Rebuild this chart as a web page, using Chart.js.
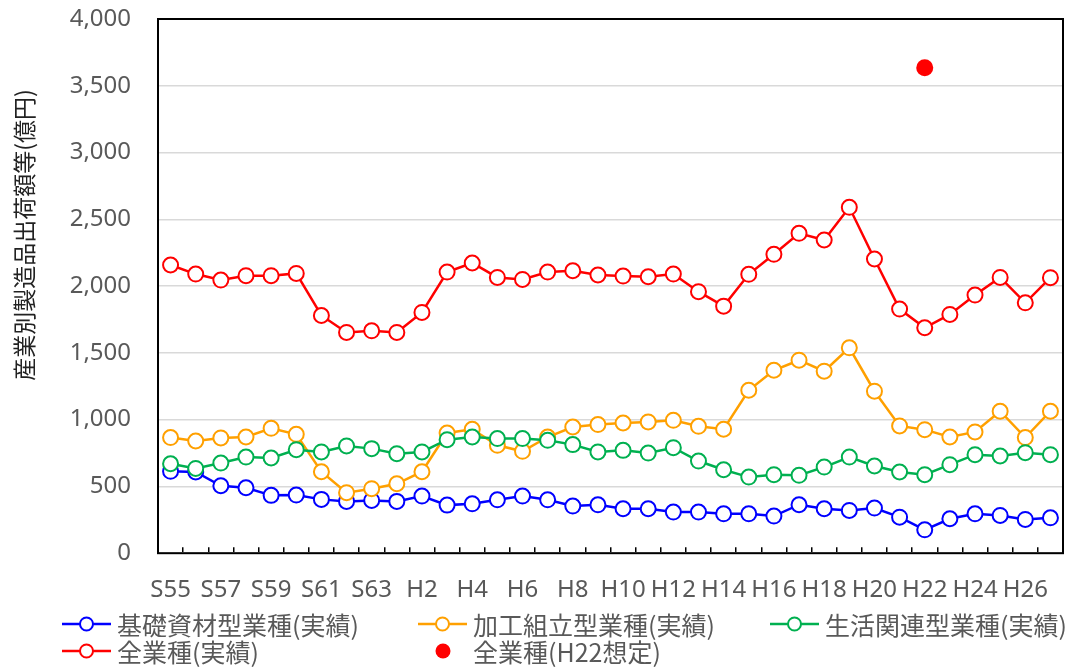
<!DOCTYPE html>
<html lang="ja">
<head>
<meta charset="utf-8">
<script src="https://cdn.jsdelivr.net/npm/chart.js@4.4.1/dist/chart.umd.min.js"></script>
<style>
  html, body { margin: 0; padding: 0; background: #fff; }
  #wrap { position: relative; width: 1075px; height: 667px; }
  #legend { position: absolute; left: 0; top: 0; width: 1075px; height: 667px; pointer-events: none;
            font: 25px "Noto Sans CJK JP", "Noto Sans"; color: #595959; }
  .item { position: absolute; display: flex; align-items: center; white-space: nowrap; height: 28px; line-height: 28px; }
  .item svg { margin-right: 6px; flex: none; }
</style>
</head>
<body>
<div id="wrap">
  <canvas id="chart" width="1075" height="667"></canvas>
  <div id="legend"></div>
</div>
<script>
'use strict';

// 年次 (S55〜S63, H1〜H27)
const years = ['S55', 'S56', 'S57', 'S58', 'S59', 'S60', 'S61', 'S62', 'S63',
  'H1', 'H2', 'H3', 'H4', 'H5', 'H6', 'H7', 'H8', 'H9', 'H10',
  'H11', 'H12', 'H13', 'H14', 'H15', 'H16', 'H17', 'H18', 'H19', 'H20',
  'H21', 'H22', 'H23', 'H24', 'H25', 'H26', 'H27'];

// 製造品出荷額等 (億円)
const basicMaterials = [613, 608, 505, 490, 433, 435, 403, 388, 395, 388, 428, 360,
  370, 400, 428, 400, 353, 362, 333, 333, 308, 308, 295, 295,
  278, 363, 333, 320, 338, 270, 175, 258, 295, 283, 253, 265];
const assembly = [866, 840, 863, 870, 935, 890, 610, 453, 483, 520, 610, 900,
  928, 808, 763, 870, 945, 963, 975, 983, 995, 950, 928, 1220,
  1370, 1445, 1363, 1538, 1213, 953, 925, 870, 908, 1063, 866, 1063];
const living = [670, 635, 675, 720, 713, 775, 758, 803, 783, 745, 758, 850,
  870, 858, 858, 845, 813, 758, 770, 750, 790, 690, 625, 570,
  588, 583, 645, 720, 653, 608, 588, 663, 738, 728, 753, 738];
const allIndustries = [2158, 2090, 2045, 2078, 2078, 2095, 1780, 1653, 1665, 1653, 1803, 2105,
  2173, 2065, 2050, 2105, 2115, 2083, 2075, 2070, 2090, 1958, 1850, 2088,
  2238, 2395, 2345, 2590, 2203, 1828, 1688, 1788, 1933, 2065, 1875, 2063];
const h22Estimate = 3635;

const seriesNames = ['基礎資材型業種(実績)', '加工組立型業種(実績)', '生活関連型業種(実績)',
  '全業種(実績)', '全業種(H22想定)'];
const seriesColors = ['#0000ff', '#ffa000', '#00b050', '#ff0000', '#ff0000'];

const yTicks = { min: 0, max: 4000, step: 500 };

const FONT = '"Noto Sans", "Noto Sans CJK JP", sans-serif';
const GREY = '#595959';

function lineSeries(i, values) {
  return {
    label: seriesNames[i],
    data: values,
    borderColor: seriesColors[i],
    backgroundColor: '#fff',
    borderWidth: 2.5,
    pointRadius: 7.5,
    pointBorderWidth: 2,
    pointBackgroundColor: '#fff',
    pointBorderColor: seriesColors[i],
    tension: 0,
    order: 4 - i
  };
}

const datasets = [
  lineSeries(0, basicMaterials),
  lineSeries(1, assembly),
  lineSeries(2, living),
  lineSeries(3, allIndustries),
  {
    label: seriesNames[4],
    data: years.map(y => (y === 'H22' ? h22Estimate : null)),
    showLine: false,
    pointRadius: 8.5,
    pointBorderWidth: 0,
    pointBackgroundColor: seriesColors[4],
    borderColor: seriesColors[4],
    order: 0
  }
];

// black frame round the plot area
const frame = {
  id: 'frame',
  beforeDatasetsDraw(chart) {
    const { ctx, chartArea: a } = chart;
    ctx.save();
    ctx.strokeStyle = '#000';
    ctx.lineWidth = 2;
    ctx.strokeRect(a.left, a.top, a.right - a.left, a.bottom - a.top);
    ctx.restore();
  }
};

const config = {
  type: 'line',
  data: { labels: years, datasets: datasets },
  options: {
    responsive: false,
    animation: false,
    devicePixelRatio: 1,
    layout: { padding: { top: 19, right: 12, bottom: 33, left: 0 } },
    plugins: { legend: { display: false }, tooltip: { enabled: false } },
    scales: {
      x: {
        offset: true,
        // labels are short and sit under the points, no side padding needed
        afterFit: s => { s.paddingLeft = 0; s.paddingRight = 0; },
        border: { display: false },
        grid: { display: true, offset: true, drawOnChartArea: false, drawTicks: true,
                tickLength: -6, color: '#000', lineWidth: 1.5 },
        ticks: {
          autoSkip: false, maxRotation: 0, minRotation: 0, padding: 29,
          color: GREY, font: { family: FONT, size: 24 },
          callback: (v, i) => (i % 2 === 0 ? years[i] : '')
        }
      },
      y: {
        min: yTicks.min,
        max: yTicks.max,
        afterFit: s => { s.width = 158; },
        border: { display: false },
        // invisible tick marks keep the labels clear of the frame
        grid: { color: '#d9d9d9', lineWidth: 1.5, drawTicks: true, tickLength: 27, tickColor: 'rgba(0,0,0,0)' },
        ticks: {
          stepSize: yTicks.step, padding: 0,
          color: GREY, font: { family: FONT, size: 24 },
          callback: v => v.toLocaleString('en-US')
        },
        title: {
          display: true,
          // leading spaces lift the title above the axis centre
          text: '　　　　  産業別製造品出荷額等(億円)',
          color: '#222',
          font: { family: '"Noto Sans CJK JP"', size: 23 },
          padding: { top: 10, bottom: 0 }
        }
      }
    }
  },
  plugins: [frame]
};

const chart = new Chart(document.getElementById('chart'), config);

// legend, laid out in a three-column grid under the axis
const slots = [
  { left: 62, top: 610 }, { left: 418, top: 610 }, { left: 770, top: 610 },
  { left: 62, top: 637 }, { left: 418, top: 637 }
];
const legendEl = document.getElementById('legend');
chart.data.datasets.forEach((ds, i) => {
  const item = document.createElement('div');
  item.className = 'item';
  item.style.left = slots[i].left + 'px';
  item.style.top = slots[i].top + 'px';
  const c = seriesColors[i];
  const marker = ds.showLine === false
    ? `<svg width="49" height="18"><circle cx="25" cy="9" r="7.5" fill="${c}"/></svg>`
    : `<svg width="49" height="18"><line x1="0" y1="9" x2="49" y2="9" stroke="${c}" stroke-width="2.5"/>` +
      `<circle cx="24.5" cy="9" r="6.5" fill="#fff" stroke="${c}" stroke-width="2"/></svg>`;
  item.innerHTML = marker + '<span>' + ds.label + '</span>';
  legendEl.appendChild(item);
});
</script>
</body>
</html>
